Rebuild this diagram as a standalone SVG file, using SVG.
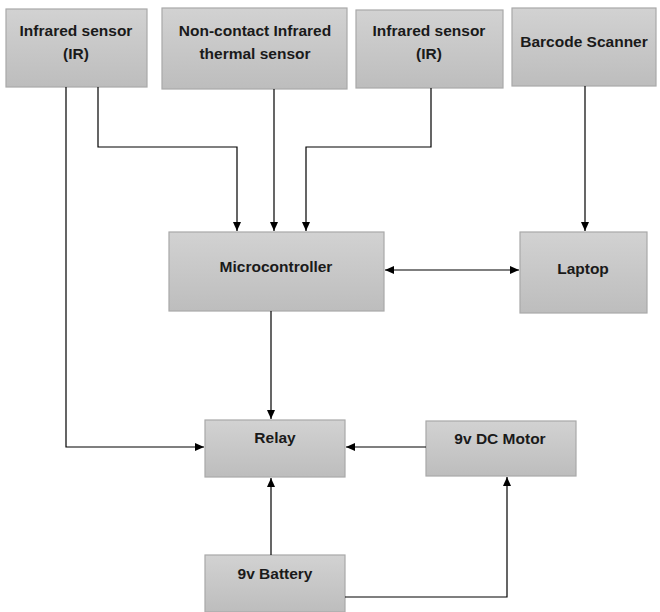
<svg xmlns="http://www.w3.org/2000/svg" width="660" height="612" viewBox="0 0 660 612">
<defs>
<linearGradient id="g" x1="0" y1="0" x2="0" y2="1">
<stop offset="0" stop-color="#d2d2d2"/>
<stop offset="1" stop-color="#bdbdbd"/>
</linearGradient>
<marker id="ah" markerWidth="10" markerHeight="10" refX="9" refY="5" orient="auto-start-reverse" markerUnits="userSpaceOnUse">
<path d="M0,1 L9,5 L0,9 Z" fill="#000"/>
</marker>
</defs>
<style>
.box{fill:url(#g);stroke:#a8a8a8;stroke-width:1.2}
.t{font-family:"Liberation Sans",Arial,sans-serif;font-weight:bold;font-size:15.5px;fill:#1a1a1a;text-anchor:middle}
.c{fill:none;stroke:#000;stroke-width:1.2}
</style>
<rect width="660" height="612" fill="#fff"/>
<g id="ir1"><rect class="box" x="6" y="9" width="141" height="78"/><text class="t" x="76" y="36">Infrared sensor</text><text class="t" x="76" y="59">(IR)</text></g>
<g id="thermal"><rect class="box" x="162" y="8" width="185" height="81"/><text class="t" x="255" y="36">Non-contact Infrared</text><text class="t" x="255" y="59">thermal sensor</text></g>
<g id="ir2"><rect class="box" x="356" y="10" width="147" height="78"/><text class="t" x="429" y="36">Infrared sensor</text><text class="t" x="429" y="59">(IR)</text></g>
<g id="barcode"><rect class="box" x="512" y="8" width="144" height="78"/><text class="t" x="584" y="47">Barcode Scanner</text></g>
<g id="micro"><rect class="box" x="169" y="232" width="215" height="79"/><text class="t" x="276" y="272">Microcontroller</text></g>
<g id="laptop"><rect class="box" x="520" y="232" width="127" height="81"/><text class="t" x="583" y="274">Laptop</text></g>
<g id="relay"><rect class="box" x="205" y="420" width="140" height="57"/><text class="t" x="275" y="443">Relay</text></g>
<g id="motor"><rect class="box" x="426" y="421" width="150" height="55"/><text class="t" x="500" y="444">9v DC Motor</text></g>
<g id="battery"><rect class="box" x="205" y="555" width="140" height="57"/><text class="t" x="275" y="579">9v Battery</text></g>
<g id="connectors">
<path class="c" d="M66,87 V447 H204" marker-end="url(#ah)"/>
<path class="c" d="M98,87 V147 H237 V231" marker-end="url(#ah)"/>
<path class="c" d="M274,89 V231" marker-end="url(#ah)"/>
<path class="c" d="M431,88 V147 H306 V231" marker-end="url(#ah)"/>
<path class="c" d="M585,86 V231" marker-end="url(#ah)"/>
<path class="c" d="M385,270 H519" marker-start="url(#ah)" marker-end="url(#ah)"/>
<path class="c" d="M271,311 V419" marker-end="url(#ah)"/>
<path class="c" d="M426,447 H346" marker-end="url(#ah)"/>
<path class="c" d="M271,555 V478" marker-end="url(#ah)"/>
<path class="c" d="M345,597 H507 V477" marker-end="url(#ah)"/>
</g>
</svg>
